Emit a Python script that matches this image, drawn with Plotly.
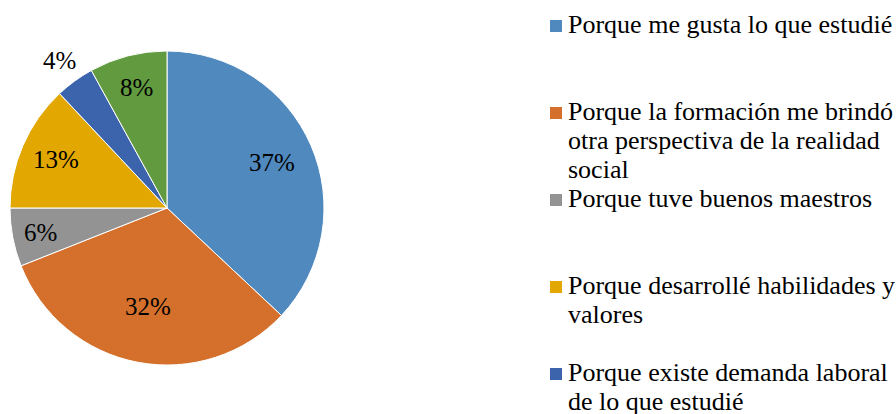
import math
import plotly.graph_objects as go

labels = [
    "Porque me gusta lo que estudié",
    "Porque la formación me brindó<br>otra perspectiva de la realidad<br>social",
    "Porque tuve buenos maestros",
    "Porque desarrollé habilidades y<br>valores",
    "Porque existe demanda laboral<br>de lo que estudié",
    "Otros",
]
values = [37, 32, 6, 13, 4, 8]
colors = ["#4F89BD", "#D4702C", "#939393", "#E2A700", "#3B64AD", "#629A40"]
label_radius = [0.73, 0.64, 0.82, 0.77, 1.16, 0.79]

FONT = "Liberation Serif, Times New Roman, serif"
W, H = 896, 414
OFF = 0  # body margin removed via post_script
CX, CY, R = 167, 208, 157
PCT_SIZE = 25
LEG_SIZE = 26


def px_x(sx):
    return (sx - OFF) / W


def px_y(sy):
    return 1 - (sy - OFF) / H


fig = go.Figure()
fig.add_trace(go.Pie(
    labels=labels,
    values=values,
    sort=False,
    direction="clockwise",
    rotation=0,
    marker=dict(colors=colors, line=dict(color="white", width=1)),
    textinfo="none",
    showlegend=False,
    domain=dict(x=[px_x(CX - R), px_x(CX + R)],
                y=[px_y(CY + R), px_y(CY - R)]),
    hoverinfo="label+percent",
))

# percentage labels placed along each slice bisector
total = sum(values)
cum = 0
for v, rf in zip(values, label_radius):
    mid = (cum + v / 2) / total * 2 * math.pi
    cum += v
    sx = CX + rf * R * math.sin(mid)
    sy = CY - rf * R * math.cos(mid)
    fig.add_annotation(xref="paper", yref="paper", x=px_x(sx), y=px_y(sy),
                       xanchor="center", yanchor="middle", showarrow=False,
                       text=f"{round(v / total * 100)}%",
                       font=dict(family=FONT, size=PCT_SIZE, color="black"))

# legend drawn as annotations: fixed slot height, fixed line step
base0 = 34
slot = 87
line_step = 29
for i, (lab, col) in enumerate(zip(labels, colors)):
    base = base0 + i * slot
    fig.add_shape(type="rect", xref="paper", yref="paper",
                  x0=px_x(550), x1=px_x(562), y0=px_y(base - 2), y1=px_y(base - 14),
                  fillcolor=col, line=dict(width=0))
    for j, line in enumerate(lab.split("<br>")):
        b = base + j * line_step
        fig.add_annotation(xref="paper", yref="paper", x=px_x(566),
                           y=px_y(b - 0.35 * LEG_SIZE),
                           xanchor="left", yanchor="middle", align="left",
                           showarrow=False, text=line,
                           font=dict(family=FONT, size=LEG_SIZE, color="black"))

fig.update_layout(
    width=W, height=H,
    margin=dict(l=0, r=0, t=0, b=0),
    paper_bgcolor="white",
    plot_bgcolor="white",
    font=dict(family=FONT),
)

fig.write_html(
    "out.html",
    config={"displayModeBar": False},
    post_script="document.body.style.margin='0';document.body.style.overflow='hidden';",
)
